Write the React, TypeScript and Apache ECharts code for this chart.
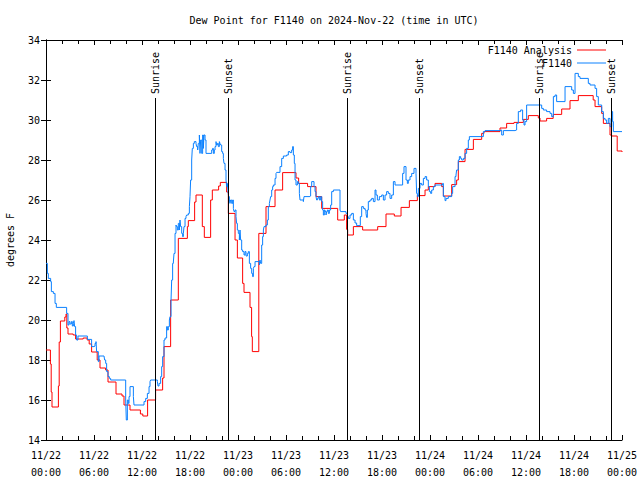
import React, { useEffect, useRef } from 'react';
import * as echarts from 'echarts';

// Time in hours since 2024-11-22 00:00 UTC
const analysisHours = [0, 0.55, 0.65, 0.75, 1.55, 1.65, 1.8, 2.35, 2.5, 2.6, 2.75, 3.4, 3.7, 4.65, 5.15, 5.4, 5.7, 6.4, 6.75, 7.45, 7.75, 8.75, 9.5, 9.75, 10.5, 11.8, 12.1, 12.7, 13.7, 14.58, 14.75, 15.58, 16.54, 17.67, 17.79, 18.58, 18.75, 19.54, 19.79, 20.58, 20.79, 21.58, 21.79, 22.58, 22.79, 23.63, 23.92, 24.58, 24.75, 25.5, 25.7, 25.79, 26.6, 27.5, 28.63, 29.58, 31.25, 31.58, 32.7, 33.75, 34.46, 36.46, 37.29, 37.58, 37.71, 38.42, 39.58, 41.46, 42.5, 43.54, 44.38, 45.42, 46.42, 47.38, 47.79, 48.63, 49.46, 49.67, 50.71, 51.33, 51.54, 52.38, 53.42, 54.46, 54.75, 56.75, 57.58, 58.5, 59.67, 60.29, 61.54, 61.75, 62.58, 63.4, 64.46, 65.5, 66.54, 68.4, 68.63, 69.46, 69.67, 70.5, 70.7, 71.4, 72];
const analysisValues = [18.5, 17.8, 16.4, 15.65, 16.7, 18.9, 19.95, 20.15, 20.3, 19.6, 19.3, 19.25, 19.05, 19.1, 19.0, 18.8, 18.4, 18.0, 17.6, 17.5, 16.9, 16.3, 16.2, 15.75, 15.5, 15.3, 15.2, 16.0, 16.5, 17.1, 18.67, 21.0, 24.08, 24.67, 24.97, 25.9, 26.25, 24.67, 24.13, 26.0, 26.5, 26.7, 26.88, 26.4, 25.33, 24.0, 23.1, 21.83, 21.38, 20.63, 19.17, 18.42, 24.33, 25.67, 26.5, 27.37, 27.1, 26.83, 26.67, 26.17, 25.58, 25.0, 25.25, 24.53, 24.25, 24.67, 24.5, 24.67, 25.3, 25.2, 25.63, 25.97, 26.22, 26.5, 26.67, 26.83, 26.67, 26.2, 26.77, 27.0, 27.92, 28.53, 29.03, 29.33, 29.42, 29.6, 29.83, 29.88, 30.03, 30.22, 30.1, 29.95, 30.08, 30.28, 30.55, 30.97, 31.22, 31.0, 30.67, 30.33, 29.83, 29.25, 29.2, 28.45, 28.4];

const obsHours = [0, 0.17, 0.29, 0.58, 0.67, 0.92, 1.13, 1.29, 2.58, 2.75, 2.88, 3.0, 3.17, 3.29, 3.42, 3.5, 3.58, 3.7, 3.83, 4.0, 5.17, 5.7, 6.0, 6.13, 6.25, 6.33, 6.54, 6.63, 7.25, 7.33, 7.46, 7.58, 7.75, 7.92, 8.08, 9.96, 10.04, 10.17, 10.29, 10.38, 10.5, 10.92, 11.0, 12.25, 12.46, 12.67, 12.88, 13.0, 13.08, 13.92, 14.0, 14.13, 14.33, 14.46, 14.58, 14.75, 14.88, 15.08, 15.17, 15.29, 15.42, 15.5, 15.63, 15.71, 15.83, 15.92, 16.0, 16.13, 16.25, 16.33, 16.42, 16.54, 16.67, 16.75, 16.83, 16.96, 17.08, 17.17, 17.25, 17.38, 17.5, 17.58, 17.79, 17.92, 18.0, 18.08, 18.21, 18.29, 18.42, 18.54, 18.75, 18.83, 18.96, 19.04, 19.17, 19.25, 19.33, 19.46, 19.58, 19.67, 19.75, 19.88, 20.0, 20.71, 20.83, 20.92, 21.04, 21.13, 21.25, 21.33, 21.42, 21.54, 21.67, 21.75, 21.83, 21.96, 22.08, 22.17, 22.25, 22.38, 22.5, 22.58, 22.67, 22.75, 22.83, 22.92, 23.0, 23.08, 23.21, 23.33, 23.42, 23.5, 23.63, 23.75, 23.83, 23.92, 24.04, 24.17, 24.25, 24.33, 24.46, 24.58, 24.75, 24.88, 25.0, 25.17, 25.29, 25.42, 25.58, 25.71, 25.83, 25.92, 26.0, 26.13, 26.67, 26.75, 26.83, 26.96, 27.08, 27.17, 27.25, 27.5, 27.67, 27.79, 27.92, 28.0, 28.08, 28.21, 28.33, 28.42, 28.63, 28.75, 28.83, 29.25, 29.46, 29.67, 30.08, 30.29, 30.5, 30.71, 30.83, 30.92, 31.04, 31.13, 31.25, 31.42, 31.54, 31.67, 31.75, 32.17, 32.25, 33.0, 33.08, 33.21, 33.5, 33.63, 33.75, 33.83, 33.92, 34.04, 34.17, 34.33, 34.46, 34.58, 34.67, 34.79, 34.88, 35.0, 35.08, 35.17, 35.29, 35.42, 35.58, 35.71, 35.92, 36.75, 36.83, 37.5, 37.67, 37.79, 38.0, 38.21, 38.42, 38.63, 38.83, 39.29, 39.46, 39.67, 39.88, 40.0, 40.08, 40.17, 40.29, 40.5, 40.71, 40.92, 41.13, 41.25, 41.42, 41.67, 41.96, 42.17, 42.38, 42.58, 42.79, 43.0, 43.21, 43.42, 43.63, 44.58, 44.75, 45.0, 45.17, 45.29, 45.5, 45.71, 46.0, 46.25, 46.33, 46.42, 46.54, 46.75, 46.96, 47.17, 47.38, 47.58, 47.79, 47.92, 48.08, 48.21, 48.42, 48.63, 49.58, 49.67, 49.88, 50.0, 50.29, 50.71, 50.83, 51.13, 51.25, 51.33, 51.54, 51.67, 51.83, 51.96, 52.17, 52.38, 52.58, 52.79, 52.92, 54.67, 54.88, 56.75, 56.96, 57.17, 58.63, 58.83, 59.04, 59.33, 59.58, 59.75, 59.88, 60.08, 61.96, 62.17, 62.58, 63.0, 63.21, 63.42, 63.63, 63.83, 64.88, 65.71, 65.92, 66.13, 66.54, 66.75, 67.79, 68.0, 68.63, 68.83, 69.04, 69.46, 69.67, 69.88, 70.08, 70.29, 70.5, 70.71, 70.83, 70.92, 72];
const obsValues = [22.83, 22.33, 22.08, 21.92, 21.42, 21.33, 20.83, 20.63, 20.33, 19.75, 19.92, 19.8, 19.92, 19.7, 19.83, 19.97, 19.67, 19.25, 19.0, 19.2, 19.03, 18.67, 18.7, 18.83, 18.92, 18.42, 17.92, 18.2, 18.2, 18.0, 17.83, 17.42, 17.17, 17.08, 17.0, 16.0, 15.0, 16.0, 15.83, 16.17, 16.67, 16.17, 15.75, 15.92, 16.08, 16.33, 16.67, 16.92, 17.0, 16.92, 16.7, 16.83, 17.17, 17.67, 18.17, 19.0, 19.1, 19.67, 19.5, 19.67, 20.0, 20.17, 21.0, 22.0, 22.83, 22.9, 23.33, 24.33, 24.75, 24.67, 24.5, 24.83, 24.5, 25.0, 24.67, 24.33, 24.17, 24.33, 24.67, 25.08, 25.17, 25.25, 25.33, 25.67, 26.17, 27.0, 28.0, 28.58, 28.83, 28.92, 28.83, 28.67, 28.5, 28.83, 29.25, 28.33, 29.0, 28.33, 29.25, 28.58, 29.25, 29.0, 28.33, 28.5, 28.58, 28.33, 28.5, 28.67, 28.92, 28.75, 28.83, 28.67, 28.92, 28.83, 28.75, 28.42, 28.33, 28.08, 27.83, 27.5, 27.0, 26.67, 26.83, 26.42, 26.17, 26.0, 25.83, 26.0, 25.83, 26.0, 25.58, 25.42, 25.5, 25.17, 24.83, 24.5, 24.33, 24.0, 24.5, 24.0, 23.5, 23.42, 23.25, 23.42, 23.2, 23.33, 23.42, 22.83, 22.58, 22.33, 22.17, 22.58, 22.67, 22.92, 22.75, 23.0, 22.83, 23.75, 24.17, 24.5, 24.67, 24.75, 25.0, 25.67, 25.83, 26.0, 26.17, 26.5, 26.67, 26.75, 27.08, 27.33, 27.38, 27.67, 28.08, 28.2, 28.25, 28.42, 28.37, 28.5, 28.67, 28.25, 27.83, 27.0, 26.75, 26.92, 26.83, 26.33, 26.0, 25.92, 26.17, 26.2, 26.67, 26.92, 26.67, 26.42, 26.17, 26.0, 26.08, 26.17, 26.0, 26.17, 25.92, 25.5, 25.25, 25.5, 25.42, 25.25, 25.42, 25.5, 25.33, 25.5, 25.75, 26.42, 26.5, 25.5, 25.42, 25.33, 25.17, 25.08, 25.25, 25.33, 25.0, 24.85, 24.72, 25.17, 25.67, 25.58, 25.5, 25.33, 25.13, 25.5, 25.92, 26.0, 26.08, 25.92, 26.5, 26.25, 26.0, 26.17, 26.25, 26.0, 26.25, 26.42, 26.33, 26.08, 26.25, 26.92, 26.75, 27.33, 27.67, 27.0, 26.83, 27.0, 27.17, 27.33, 27.58, 27.33, 26.33, 26.17, 26.58, 26.83, 26.75, 27.08, 27.17, 27.0, 26.67, 26.42, 26.33, 26.5, 26.67, 26.75, 26.83, 26.17, 25.97, 26.08, 26.17, 26.33, 26.67, 27.17, 27.25, 27.5, 28.0, 28.17, 28.08, 28.0, 28.08, 28.33, 28.58, 29.0, 29.17, 29.42, 29.47, 29.5, 29.25, 29.47, 29.5, 29.83, 30.42, 30.5, 30.0, 29.75, 29.92, 30.75, 30.58, 30.5, 30.42, 30.33, 30.17, 31.17, 31.25, 30.92, 31.67, 31.5, 31.33, 32.33, 32.17, 32.08, 31.83, 31.75, 31.58, 31.17, 30.75, 30.42, 30.08, 30.0, 29.83, 30.08, 29.67, 30.42, 29.92, 29.42, 29.42];

const eventHours = [13.65, 22.77, 37.65, 46.7, 61.65, 70.7];
const eventNames = ['Sunrise', 'Sunset', 'Sunrise', 'Sunset', 'Sunrise', 'Sunset'];
const eventLineTop = 31.1;

const seriesNames = ['F1140 Analysis', 'F1140'];
const seriesColors = ['#ff0000', '#0a80ff'];
const titleText = 'Dew Point for F1140 on 2024-Nov-22 (time in UTC)';
const yAxisName = 'degrees F';
const yMin = 14, yMax = 34, yStep = 2;
const xMin = 0, xMax = 72, xStep = 6;
const startMonth = 11, startDay = 22;

const FONT = 'DejaVu Sans Mono';

export default function App() {
  const ref = useRef<HTMLDivElement>(null);
  useEffect(() => {
    const chart = echarts.init(ref.current!, null, { renderer: 'svg' });
    const pad = (n: number) => String(n).padStart(2, '0');
    const fmt = (v: number) => {
      const d = startDay + Math.floor(v / 24);
      const h = Math.round(v % 24);
      return `${startMonth}/${d}\n${pad(h)}:00`;
    };
    const axisCommonX = {
      type: 'value', min: xMin, max: xMax, interval: xStep,
      axisLine: { show: true, lineStyle: { color: '#000', width: 1 } },
      axisTick: { show: true, inside: true, length: 5, lineStyle: { color: '#000' } },
      minorTick: { show: true, splitNumber: 3, length: 4, lineStyle: { color: '#000' } },
      splitLine: { show: false }, minorSplitLine: { show: false },
    };
    const axisCommonY = {
      type: 'value', min: yMin, max: yMax, interval: yStep,
      axisLine: { show: true, lineStyle: { color: '#000', width: 1 } },
      axisTick: { show: true, inside: true, length: 5, lineStyle: { color: '#000' } },
      splitLine: { show: false },
    };
    const analysisData = analysisHours.map((t, i) => [t, analysisValues[i]]);
    const obsData = obsHours.map((t, i) => [t, obsValues[i]]);
    chart.setOption({
      animation: false,
      backgroundColor: '#ffffff',
      textStyle: { fontFamily: FONT },
      grid: { left: 46, right: 18, top: 40, bottom: 40, containLabel: false, outerBoundsMode: 'none' },
      legend: {
        orient: 'vertical', right: 29, top: 40, align: 'right',
        itemWidth: 29, itemHeight: 1, itemGap: 3, icon: 'rect',
        textStyle: { fontFamily: FONT, fontSize: 10, color: '#000' },
        data: seriesNames,
      },
      xAxis: [
        {
          ...axisCommonX, position: 'bottom',
          axisLabel: { formatter: fmt, color: '#000', fontSize: 10, fontFamily: FONT, lineHeight: 17, margin: 7 },
        },
        { ...axisCommonX, position: 'top', axisLabel: { show: false } },
      ],
      yAxis: [
        {
          ...axisCommonY, position: 'left',
          name: yAxisName, nameLocation: 'middle', nameGap: 31, nameRotate: 90,
          nameTextStyle: { fontFamily: FONT, fontSize: 10, color: '#000' },
          axisLabel: { color: '#000', fontSize: 10, fontFamily: FONT, margin: 6 },
        },
        { ...axisCommonY, position: 'right', axisLabel: { show: false } },
      ],
      series: [
        {
          name: seriesNames[0], type: 'line', step: 'end', data: analysisData,
          symbol: 'none', showSymbol: false,
          lineStyle: { color: seriesColors[0], width: 1 }, itemStyle: { color: seriesColors[0] },
          markLine: {
            silent: true, symbol: ['none', 'none'], label: { show: false },
            lineStyle: { color: '#000', width: 1, type: 'solid' },
            emphasis: { disabled: true },
            data: eventHours.map((t) => [{ coord: [t, yMin] }, { coord: [t, eventLineTop] }]),
          },
        },
        {
          name: seriesNames[1], type: 'line', step: 'end', data: obsData,
          symbol: 'none', showSymbol: false,
          lineStyle: { color: seriesColors[1], width: 1 }, itemStyle: { color: seriesColors[1] },
        },
      ],
    });
    const topPx = chart.convertToPixel({ yAxisIndex: 0 }, eventLineTop) as number;
    const leftPx = chart.convertToPixel({ xAxisIndex: 0 }, xMin) as number;
    const rightPx = chart.convertToPixel({ xAxisIndex: 0 }, xMax) as number;
    const graphics: any[] = eventHours.map((t, i) => ({
      type: 'text',
      x: chart.convertToPixel({ xAxisIndex: 0 }, t) as number,
      y: topPx - 4,
      rotation: Math.PI / 2,
      silent: true,
      style: { text: eventNames[i], align: 'left', verticalAlign: 'middle', font: `10px "${FONT}"`, fill: '#000' },
    }));
    graphics.push({
      type: 'text', x: (leftPx + rightPx) / 2, y: 20, silent: true,
      style: { text: titleText, align: 'center', verticalAlign: 'middle', font: `10px "${FONT}"`, fill: '#000' },
    });
    chart.setOption({ graphic: graphics });
    return () => chart.dispose();
  }, []);
  return (
    <div
      ref={ref}
      style={{ position: 'fixed', left: 0, top: 0, width: 640, height: 480, background: '#fff' }}
    />
  );
}
